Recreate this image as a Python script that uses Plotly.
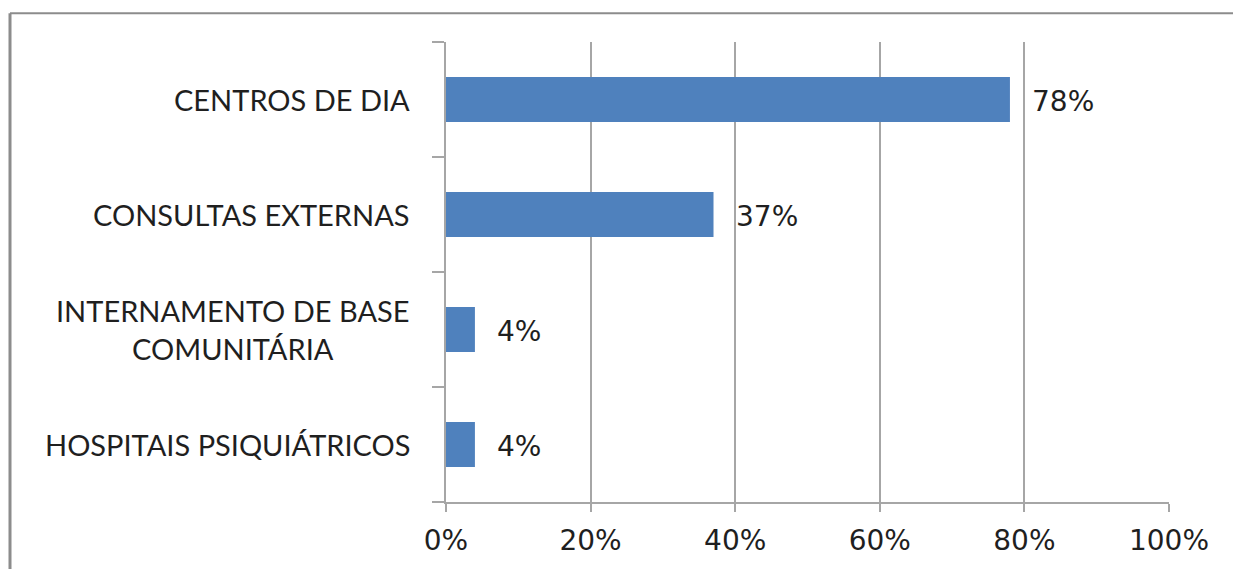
import plotly.graph_objects as go

# Categories (top to bottom) and their shares
categories = [
    "CENTROS DE DIA",
    "CONSULTAS EXTERNAS",
    "INTERNAMENTO DE BASE<br>COMUNITÁRIA",
    "HOSPITAIS PSIQUIÁTRICOS",
]
shares = [0.78, 0.37, 0.04, 0.04]
tick_vals = [0, 0.2, 0.4, 0.6, 0.8, 1.0]
tick_text = ["0%", "20%", "40%", "60%", "80%", "100%"]

W, H = 1233, 569
L, R, T, B = 446, 64, 42, 62
plot_w = W - L - R
plot_h = H - T - B

bar_color = "#4F81BD"
grid_color = "#A6A6A6"
text_color = "#1F1F1F"
frame_color = "#8C8C8C"

fig = go.Figure()
fig.add_trace(go.Bar(
    x=shares,
    y=categories,
    orientation="h",
    marker=dict(color=bar_color, line=dict(width=0)),
    width=0.39,
    hoverinfo="skip",
))

# value labels to the right of each bar
for cat, v in zip(categories, shares):
    fig.add_annotation(
        x=v, y=cat, xref="x", yref="y",
        text=f"{round(v * 100)}%",
        showarrow=False, xanchor="left", xshift=20, yshift=-2,
        font=dict(family="DejaVu Sans", size=28, color=text_color),
    )

# category labels, lines centred on each other
for cat in categories:
    fig.add_annotation(
        x=0, y=cat, xref="paper", yref="y",
        text=cat, showarrow=False, xanchor="right", align="center",
        xshift=-34,
        font=dict(family="Lato", size=29, color=text_color),
    )

# outer chart frame: left and top edges
fx0 = (10 - L) / plot_w
fy1 = 1 + (T - 13) / plot_h
fig.add_shape(type="line", xref="paper", yref="paper",
              x0=fx0, x1=fx0, y0=-(B + 10) / plot_h, y1=fy1,
              line=dict(color=frame_color, width=3))
fig.add_shape(type="line", xref="paper", yref="paper",
              x0=fx0, x1=(W - L) / plot_w, y0=fy1, y1=fy1,
              line=dict(color=frame_color, width=2))

fig.update_layout(
    width=W, height=H,
    margin=dict(l=L, r=R, t=T, b=B),
    paper_bgcolor="white",
    plot_bgcolor="white",
    showlegend=False,
    bargap=0.61,
    xaxis=dict(
        range=[0, 1],
        tickvals=tick_vals,
        ticktext=tick_text,
        showgrid=True, gridcolor=grid_color, gridwidth=2,
        showline=True, linecolor=grid_color, linewidth=2,
        ticks="outside", ticklen=8, tickwidth=2, tickcolor=grid_color,
        ticklabelstandoff=4,
        zeroline=False,
        tickfont=dict(family="DejaVu Sans", size=28, color=text_color),
        fixedrange=True,
    ),
    yaxis=dict(
        categoryorder="array",
        categoryarray=categories[::-1],
        showticklabels=False,
        showline=True, linecolor=grid_color, linewidth=2,
        ticks="outside", ticklen=12, tickwidth=2, tickcolor=grid_color,
        tickson="boundaries",
        showgrid=False,
        fixedrange=True,
    ),
)

fig.write_html("out.html")
